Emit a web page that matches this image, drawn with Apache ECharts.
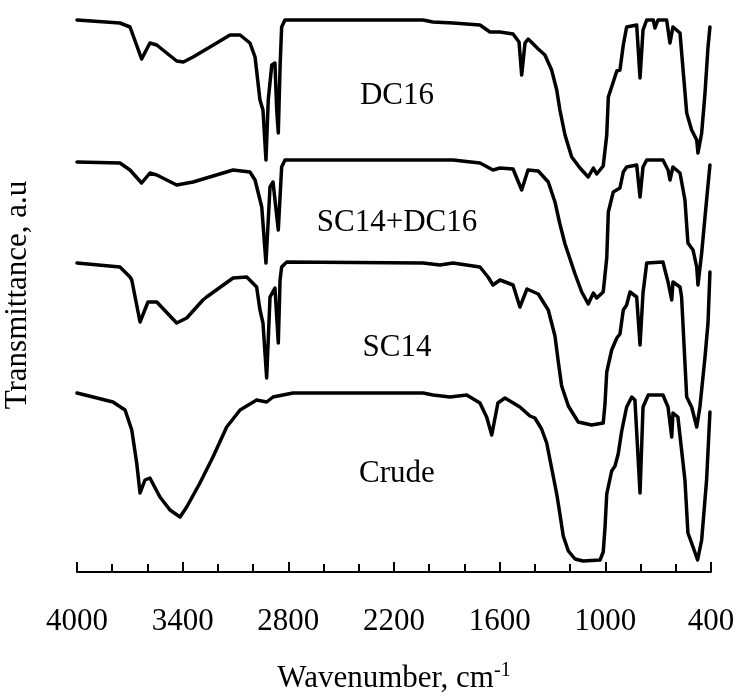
<!DOCTYPE html>
<html>
<head>
<meta charset="utf-8">
<title>FTIR spectra</title>
<script src="https://cdn.jsdelivr.net/npm/echarts@6/dist/echarts.min.js"></script>
<style>
  html, body { margin: 0; padding: 0; background: #fff; }
  #chart { width: 741px; height: 698px; }
</style>
</head>
<body>
<div id="chart"></div>
<script>
// spectra: [wavenumber (cm-1), transmittance (a.u., stacked)]
const dc16 = [
  [4000,552],[3756,549],[3699,545],[3633,513],[3586,529],[3547,527],[3491,519],[3434,511],
  [3396,510],[3341,515],[3245,525],[3131,537],[3074,537],[3018,529],[2989,515],[2961,472],
  [2944,462],[2927,412],[2914,472],[2894,507],[2876,509],[2866,462],[2857,439],[2847,505],
  [2838,545],[2819,552],[2035,552],[1979,550],[1865,549],[1712,547],[1655,540],[1598,540],
  [1524,538],[1490,530],[1475,497],[1456,529],[1438,533],[1381,523],[1343,517],[1305,502],
  [1276,482],[1258,462],[1229,437],[1191,415],[1144,404],[1097,395],[1068,404],[1049,398],
  [1012,406],[992,437],[983,475],[955,490],[935,501],[917,502],[898,527],[879,545],[822,547],
  [803,494],[786,542],[765,552],[728,552],[718,544],[701,552],[652,552],[633,529],[616,545],
  [576,539],[538,459],[510,442],[481,432],[474,419],[453,439],[434,479],[417,525],[406,545]
];
const sc14dc16 = [
  [4000,410],[3756,409],[3699,402],[3633,389],[3586,399],[3547,397],[3434,387],[3341,390],
  [3114,402],[3018,400],[2989,392],[2951,365],[2927,309],[2904,385],[2887,390],[2857,342],
  [2838,405],[2819,412],[1865,412],[1712,409],[1638,402],[1598,404],[1524,403],[1475,382],
  [1439,402],[1381,401],[1324,390],[1286,370],[1258,348],[1229,328],[1172,298],[1134,280],
  [1097,268],[1068,279],[1049,274],[1012,280],[992,314],[983,360],[955,380],[917,384],
  [898,400],[879,405],[822,407],[803,375],[786,405],[765,412],[673,412],[644,402],[633,392],
  [616,405],[576,399],[548,372],[531,329],[502,322],[481,305],[474,287],[453,319],[425,372],
  [406,407]
];
const sc14 = [
  [4000,309],[3756,305],[3699,295],[3689,292],[3642,250],[3597,270],[3547,270],[3434,249],
  [3377,254],[3285,272],[3264,275],[3114,294],[3036,295],[2980,285],[2961,262],[2944,249],
  [2923,194],[2904,275],[2876,284],[2857,229],[2847,292],[2838,305],[2809,310],[2035,309],
  [1939,307],[1865,309],[1712,305],[1666,295],[1638,287],[1598,292],[1524,287],[1485,265],
  [1445,283],[1381,278],[1324,262],[1286,236],[1267,210],[1248,186],[1210,166],[1154,150],
  [1078,147],[1012,149],[1002,168],[992,200],[964,222],[935,234],[917,238],[898,262],
  [879,267],[860,280],[822,275],[803,227],[786,279],[765,309],[673,310],[644,290],[623,272],
  [616,290],[576,285],[567,275],[538,175],[510,165],[481,145],[463,165],[434,215],[417,249],
  [406,300]
];
const crude = [
  [4000,179],[3909,175],[3796,170],[3727,162],[3689,142],[3661,109],[3642,79],[3614,92],
  [3586,94],[3529,75],[3472,62],[3415,55],[3377,65],[3302,89],[3228,115],[3150,145],
  [3074,162],[2980,172],[2923,170],[2887,175],[2774,179],[2035,179],[1979,177],[1882,175],
  [1787,177],[1712,169],[1674,155],[1645,137],[1610,169],[1570,174],[1485,165],[1428,156],
  [1400,154],[1362,143],[1333,129],[1305,104],[1276,78],[1258,58],[1239,36],[1210,21],
  [1172,13],[1127,11],[1030,12],[1012,20],[1002,44],[992,78],[964,101],[945,106],[927,118],
  [907,141],[879,165],[850,175],[832,172],[803,79],[786,165],[756,177],[673,177],[644,165],
  [623,135],[616,159],[588,155],[548,92],[531,39],[502,25],[476,12],[453,32],[425,92],
  [406,160]
];

// curve names and where they sit
const sampleNames = ['DC16', 'SC14+DC16', 'SC14', 'Crude'];
const nameWn = [2183, 2183, 2183, 2183];
const nameT = [476, 349, 224, 98];

// axis ticks
const majorTicks = [400, 1000, 1600, 2200, 2800, 3400, 4000];
const minorTicks = [600, 800, 1200, 1400, 1800, 2000, 2400, 2600, 3000, 3200, 3600, 3800];

const FONT = 'Liberation Serif';
const chart = echarts.init(document.getElementById('chart'));

const xBase = {
  type: 'value',
  min: 400,
  max: 4000,
  inverse: true,
  position: 'bottom',
  splitLine: { show: false }
};

chart.setOption({
  animation: false,
  grid: { left: 77, right: 30, top: 18, bottom: 126, outerBoundsMode: 'none', containLabel: false },
  xAxis: [
    Object.assign({}, xBase, {
      name: 'Wavenumber, cm{sup|-1}',
      nameLocation: 'middle',
      nameGap: 89,
      nameTextStyle: {
        fontFamily: FONT, fontSize: 31, color: '#000',
        rich: { sup: { fontFamily: FONT, fontSize: 20, color: '#000', padding: [0, 0, 16, 0] } }
      },
      axisLine: { lineStyle: { color: '#000', width: 2 } },
      axisTick: { inside: true, length: 10, customValues: majorTicks, lineStyle: { color: '#000', width: 2 } },
      axisLabel: {
        customValues: majorTicks,
        formatter: v => String(v),
        margin: 34,
        fontFamily: FONT, fontSize: 31, color: '#000'
      }
    }),
    Object.assign({}, xBase, {
      axisLine: { show: false },
      axisTick: { inside: true, length: 8, customValues: minorTicks, lineStyle: { color: '#000', width: 2 } },
      axisLabel: { show: false }
    })
  ],
  yAxis: {
    type: 'value',
    min: 0,
    max: 554,
    name: 'Transmittance, a.u',
    nameLocation: 'middle',
    nameRotate: 90,
    nameGap: 44,
    nameTextStyle: { fontFamily: FONT, fontSize: 31, color: '#000' },
    axisLine: { show: false },
    axisTick: { show: false },
    axisLabel: { show: false },
    splitLine: { show: false }
  },
  series: [
    ...[dc16, sc14dc16, sc14, crude].map((d, i) => ({
      name: sampleNames[i],
      type: 'line',
      data: d,
      showSymbol: false,
      lineStyle: { color: '#000', width: 3.5, join: 'round', cap: 'round' },
      z: 3
    })),
    {
      type: 'scatter',
      symbolSize: 0,
      itemStyle: { opacity: 1, color: '#000' },
      data: sampleNames.map((n, i) => ({ name: n, value: [nameWn[i], nameT[i]] })),
      label: {
        show: true,
        position: 'inside',
        formatter: p => p.name,
        fontFamily: FONT,
        fontSize: 31,
        color: '#000',
        textBorderWidth: 0
      }
    }
  ]
});
</script>
</body>
</html>
